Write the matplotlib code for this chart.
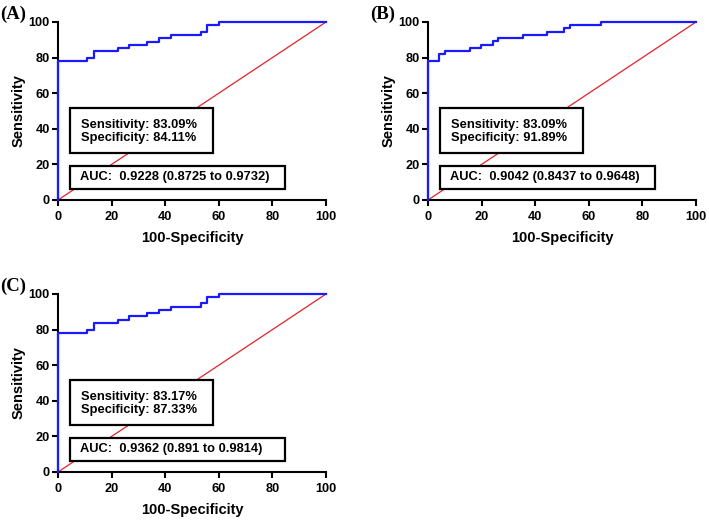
import matplotlib
matplotlib.use("Agg")
import matplotlib.pyplot as plt
from matplotlib.patches import Rectangle

# ---- data ----
fpr_a = [0, 0, 11, 13.5, 22.4, 26.6, 33.3, 37.8, 42, 53.4, 55.6, 60.1, 100]
sens_a = [0, 78, 80, 83.6, 85.4, 87.3, 89, 91, 92.9, 94.6, 98.1, 100, 100]

fpr_b = [0, 0, 4.1, 6.4, 15.5, 19.8, 24.1, 26.2, 35.3, 44.3, 50.9, 53.1, 64.5, 100]
sens_b = [0, 78.2, 81.8, 83.5, 85.4, 87.2, 89.1, 90.9, 92.8, 94.5, 96.4, 98.3, 100, 100]

fpr_c = [0, 0, 11, 13.5, 22.4, 26.6, 33.3, 37.8, 42, 53.4, 55.6, 60.1, 100]
sens_c = [0, 78, 80, 83.7, 85.6, 87.5, 89.3, 91.2, 92.9, 94.8, 98.1, 100, 100]

panel_labels = ["(A)", "(B)", "(C)"]
sens_text = ["Sensitivity: 83.09%", "Sensitivity: 83.09%", "Sensitivity: 83.17%"]
spec_text = ["Specificity: 84.11%", "Specificity: 91.89%", "Specificity: 87.33%"]
auc_text = ["AUC:  0.9228 (0.8725 to 0.9732)",
            "AUC:  0.9042 (0.8437 to 0.9648)",
            "AUC:  0.9362 (0.891 to 0.9814)"]
ticks = [0, 20, 40, 60, 80, 100]

plt.rcParams['font.family'] = ['Liberation Sans', 'DejaVu Sans']
plt.rcParams['font.weight'] = 'bold'

W, H = 709, 520
fig = plt.figure(figsize=(W / 100, H / 100), dpi=100)

# axes rectangles in pixels: (left, top, right, bottom)
rects = [(58, 22, 326, 200), (428, 22, 696, 200), (58, 294, 326, 472)]
curves = [(fpr_a, sens_a), (fpr_b, sens_b), (fpr_c, sens_c)]

for i, (l, t, r, b) in enumerate(rects):
    ax = fig.add_axes([l / W, 1 - b / H, (r - l) / W, (b - t) / H])
    x, y = curves[i]
    ax.plot([0, 100], [0, 100], color='#e8202a', lw=0.9, zorder=2, clip_on=False)
    ax.plot(x, y, drawstyle='steps-post', color='#1a1aff', lw=1.6, zorder=6,
            clip_on=False)
    ax.set_xlim(0, 100)
    ax.set_ylim(0, 100)
    ax.set_xticks(ticks)
    ax.set_yticks(ticks)
    for s in ['top', 'right']:
        ax.spines[s].set_visible(False)
    for s in ['left', 'bottom']:
        ax.spines[s].set_linewidth(1.5)
        ax.spines[s].set_zorder(5)
    ax.tick_params(direction='out', length=4, width=1.5, labelsize=9.2)
    ax.tick_params(axis='x', pad=4)
    ax.tick_params(axis='y', pad=2)
    for lab in ax.get_xticklabels() + ax.get_yticklabels():
        lab.set_fontweight('bold')
    ax.set_xlabel("100-Specificity", fontsize=10.5, fontweight='bold', labelpad=6)
    ax.set_ylabel("Sensitivity", fontsize=10.5, fontweight='bold', labelpad=2)
    ax.patch.set_alpha(0)

    # boxes
    ax.add_patch(Rectangle((4.5, 26.4), 53.3, 25.3, facecolor='white',
                           edgecolor='black', lw=1.6, zorder=4, clip_on=False))
    ax.add_patch(Rectangle((4.5, 6.2), 80.2, 12.9, facecolor='white',
                           edgecolor='black', lw=1.6, zorder=4, clip_on=False))
    ax.text(8.6, 42, sens_text[i], fontsize=9.3, fontweight='bold',
            va='center', ha='left', zorder=7)
    ax.text(8.6, 34.8, spec_text[i], fontsize=9.3, fontweight='bold',
            va='center', ha='left', zorder=7)
    ax.text(8.2, 12.7, auc_text[i], fontsize=9.3, fontweight='bold',
            va='center', ha='left', zorder=7)

    fig.text((l - 58) / W, 1 - (t - 3) / H, panel_labels[i],
             family=['Liberation Serif', 'DejaVu Serif'], fontsize=13.5,
             fontweight='bold', ha='left', va='baseline')

fig.savefig("out.png", dpi=100)
